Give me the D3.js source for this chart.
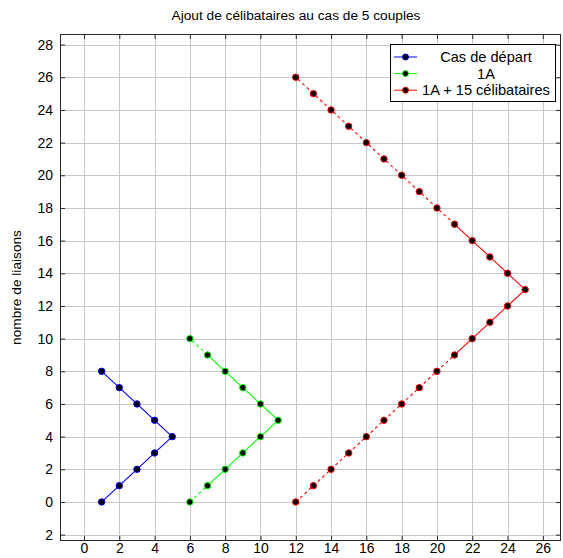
<!DOCTYPE html>
<html><head><meta charset="utf-8">
<script src="https://cdn.jsdelivr.net/npm/d3@7"></script>
<style>body{margin:0;background:#fff}svg{display:block;font-family:"Liberation Sans",Arial,sans-serif}</style>
</head><body><div id="chart"></div>
<script>
const title = "Ajout de célibataires au cas de 5 couples";
const yLabel = "nombre de liaisons";
const xTicks = [0,2,4,6,8,10,12,14,16,18,20,22,24,26];
const yTicks = [28,26,24,22,20,18,16,14,12,10,8,6,4,2,0,-2];
const yTickLabels = ["28","26","24","22","20","18","16","14","12","10","8","6","4","2","0","2"];
const seriesNames = ["Cas de départ","1A","1A + 15 célibataires"];
const seriesColors = ["#0000ff","#00ff00","#ff0000"];
const blueX = [1,2,3,4,5,4,3,2,1];
const blueY = [0,1,2,3,4,5,6,7,8];
const greenX = [6,7,8,9,10,11,10,9,8,7,6];
const greenY = [0,1,2,3,4,5,6,7,8,9,10];
const redX = [12,13,14,15,16,17,18,19,20,21,22,23,24,25,24,23,22,21,20,19,18,17,16,15,14,13,12];
const redY = [0,1,2,3,4,5,6,7,8,9,10,11,12,13,14,15,16,17,18,19,20,21,22,23,24,25,26];
// segment indices drawn dashed (from point i to i+1)
const blueDashed = [];
const greenDashed = [0,9];
const redDashed = [0,1,2,3,4,5,6,7,8,17,18,19,20,21,22,23,24,25];

const W=563,H=558;
const L=60,R=561,T=34,B=541;
const x=d3.scaleLinear().domain([-1.36,27.03]).range([L,R]);
const y=d3.scaleLinear().domain([-2.39,28.65]).range([B,T]);
const FONT='"Liberation Sans",Arial,sans-serif';

const svg=d3.select("#chart").append("svg").attr("width",W).attr("height",H);
svg.append("rect").attr("x",L).attr("y",T).attr("width",R-L).attr("height",B-T).attr("fill","#fff");

// grid
const g=svg.append("g").attr("stroke","#c8c8c8").attr("stroke-width",1);
xTicks.forEach(v=>g.append("line").attr("x1",Math.round(x(v))+0.5).attr("x2",Math.round(x(v))+0.5).attr("y1",T).attr("y2",B));
yTicks.forEach(v=>g.append("line").attr("y1",Math.round(y(v))+0.5).attr("y2",Math.round(y(v))+0.5).attr("x1",L).attr("x2",R));

// axes via d3
const fmtY = d=>yTickLabels[yTicks.indexOf(d)];
const axB=d3.axisBottom(x).tickValues(xTicks).tickSizeInner(-5).tickSizeOuter(0).tickPadding(2);
const axT=d3.axisTop(x).tickValues(xTicks).tickSizeInner(-5).tickSizeOuter(0).tickFormat("");
const axL=d3.axisLeft(y).tickValues(yTicks).tickSizeInner(-5).tickSizeOuter(0).tickPadding(7).tickFormat(fmtY);
const axR=d3.axisRight(y).tickValues(yTicks).tickSizeInner(-5).tickSizeOuter(0).tickFormat("");
function style(sel){sel.selectAll("path").remove();sel.selectAll("line").attr("stroke","#262626");sel.selectAll("text").attr("fill","#000").style("font-size","14px").style("font-family",FONT);}
svg.append("g").attr("transform",`translate(0,${B})`).call(axB).call(style);
svg.append("g").attr("transform",`translate(0,${T})`).call(axT).call(style);
svg.append("g").attr("transform",`translate(${L},0)`).call(axL).call(style);
svg.append("g").attr("transform",`translate(${R},0)`).call(axR).call(style);
svg.append("rect").attr("x",L+0.5).attr("y",T+0.5).attr("width",R-L-1).attr("height",B-T-1).attr("fill","none").attr("stroke","#262626").attr("stroke-width",1);

// series
const series=[[blueX,blueY,blueDashed],[greenX,greenY,greenDashed],[redX,redY,redDashed]];
series.forEach(([xs,ys,dashed],si)=>{
  const pts=xs.map((v,i)=>[v,ys[i]]);
  const sg=svg.append("g");
  for(let i=0;i<pts.length-1;i++){
    sg.append("line").attr("x1",x(pts[i][0])).attr("y1",y(pts[i][1])).attr("x2",x(pts[i+1][0])).attr("y2",y(pts[i+1][1]))
      .attr("stroke",seriesColors[si]).attr("stroke-width",1.1)
      .attr("stroke-dasharray",dashed.includes(i)?"3,3":null);
  }
  sg.selectAll("circle").data(pts).enter().append("circle")
    .attr("cx",d=>x(d[0])).attr("cy",d=>y(d[1])).attr("r",3.2)
    .attr("fill","#000").attr("stroke",seriesColors[si]).attr("stroke-width",1);
});

// legend
const lg=svg.append("g");
lg.append("rect").attr("x",390.5).attr("y",44.5).attr("width",165).attr("height",57).attr("fill","#fff").attr("stroke","#000");
seriesNames.forEach((n,i)=>{
  const yy=57+i*16.6;
  lg.append("line").attr("x1",394).attr("x2",417).attr("y1",yy).attr("y2",yy).attr("stroke",seriesColors[i]);
  lg.append("circle").attr("cx",405.5).attr("cy",yy).attr("r",3).attr("fill","#000").attr("stroke",seriesColors[i]);
  lg.append("text").attr("x",486).attr("y",yy+5).attr("text-anchor","middle").style("font-size","14.6px").text(n);
});

// title & label
svg.append("text").attr("x",296).attr("y",20).attr("text-anchor","middle").style("font-size","13.7px").text(title);
svg.append("text").attr("transform",`translate(21,${(T+B)/2}) rotate(-90)`).attr("text-anchor","middle").style("font-size","13.7px").text(yLabel);
</script></body></html>
